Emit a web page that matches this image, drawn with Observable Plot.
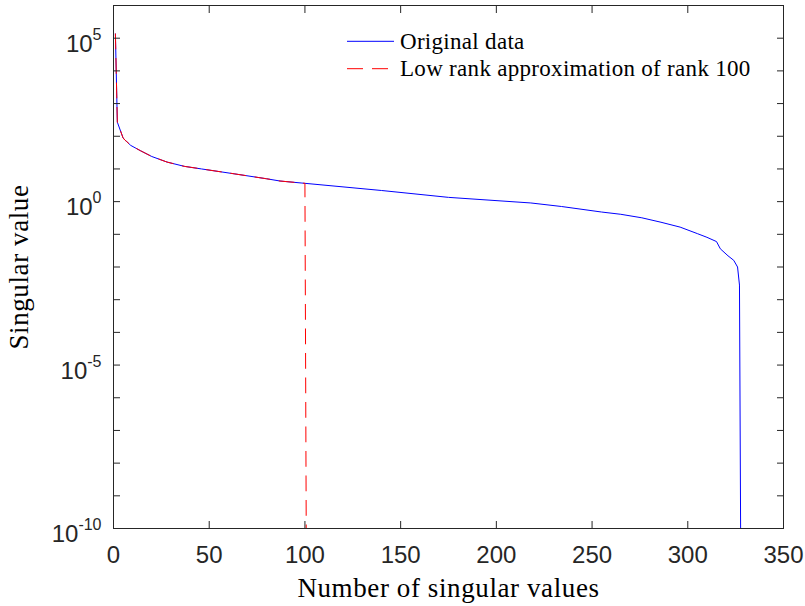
<!DOCTYPE html>
<html>
<head>
<meta charset="utf-8">
<script src="https://cdn.jsdelivr.net/npm/d3@7"></script>
<script src="https://cdn.jsdelivr.net/npm/@observablehq/plot@0.6"></script>
<style>
  html, body { margin: 0; padding: 0; background: #fff; }
  #wrap { position: relative; width: 805px; height: 606px; overflow: hidden; }
  #legend { position: absolute; left: 0; top: 0; pointer-events: none; }
</style>
</head>
<body>
<div id="wrap"></div>
<script>
// ---- data ----
const rankOrig = [1, 2, 5, 6, 7, 9, 14, 20, 28, 37, 46, 63, 80, 87, 98, 100, 140, 175, 218, 234, 255, 265, 276, 286, 296, 305, 310, 315, 317, 321, 324, 326, 327, 328];
const valueOrig = [1.35e5, 269, 89, 76, 68, 52.5, 36.3, 24, 16.2, 12.0, 10.0, 7.1, 5.0, 4.27, 3.72, 3.63, 2.19, 1.35, 0.91, 0.71, 0.48, 0.41, 0.32, 0.234, 0.166, 0.105, 0.081, 0.060, 0.036, 0.022, 0.016, 0.010, 0.0028, 1e-15];
const approxRankCut = 100;            // rank of the approximation
const approxTailRank = [101];         // first discarded singular value
const approxTailValue = [1e-15];      // numerically zero

const xTicks = [0, 50, 100, 150, 200, 250, 300, 350];
const yTicksAll = [1e-10, 1e-9, 1e-8, 1e-7, 1e-6, 1e-5, 1e-4, 1e-3, 1e-2, 1e-1, 1e0, 1e1, 1e2, 1e3, 1e4, 1e5, 1e6];
const yTickLabels = [1e-10, 1e-5, 1e0, 1e5];
const seriesNames = ["Original data", "Low rank approximation of rank 100"];
const xLabel = "Number of singular values";
const yLabel = "Singular value";

const original = rankOrig.map((r, i) => ({rank: r, value: valueOrig[i]}));
const approx = original.filter(d => d.rank <= approxRankCut)
  .concat(approxTailRank.map((r, i) => ({rank: r, value: approxTailValue[i]})));

const axisColor = "#262626";
const tickFont = "'Liberation Sans', Arial, sans-serif";
const serif = "'Liberation Serif', 'Times New Roman', serif";

const chart = Plot.plot({
  width: 805,
  height: 606,
  marginLeft: 113,
  marginRight: 22,
  marginTop: 5,
  marginBottom: 78,
  style: {background: "#fff", color: axisColor, fontFamily: tickFont, overflow: "visible"},
  x: {domain: [0, 350], label: null},
  y: {type: "log", domain: [1e-10, 1e6], label: null},
  marks: [
    Plot.line(original, {x: "rank", y: "value", stroke: "#0000ff", strokeWidth: 1, clip: true}),
    Plot.line(approx, {x: "rank", y: "value", stroke: "#ff0000", strokeWidth: 1, strokeDasharray: "15,9.5", clip: true}),
    Plot.frame({stroke: axisColor, strokeWidth: 1}),
    Plot.axisX({anchor: "bottom", ticks: xTicks, tickSize: -7, tickPadding: 24, fontSize: 24, fill: axisColor, label: null}),
    Plot.axisX({anchor: "top", ticks: xTicks.slice(1, -1), tickSize: -7, tickFormat: () => "", label: null}),
    Plot.axisY({anchor: "left", ticks: yTicksAll, tickSize: -7, tickFormat: () => "", label: null}),
    Plot.axisY({anchor: "right", ticks: yTicksAll, tickSize: -7, tickFormat: () => "", label: null}),
    Plot.axisY({anchor: "left", ticks: yTickLabels, tickSize: 0, tickPadding: 12, dy: 6, fontSize: 24, fill: axisColor,
      tickFormat: d => String(Math.round(Math.log10(d))), label: null}),
    Plot.text([xLabel], {frameAnchor: "bottom", text: d => d, dy: 59.4, fontSize: 27, fontFamily: serif, fill: "#000",
      textAnchor: "middle", lineAnchor: "middle"}),
    Plot.text([yLabel], {frameAnchor: "left", text: d => d, dx: -94.2, rotate: -90, fontSize: 27, fontFamily: serif, fill: "#000",
      textAnchor: "middle", lineAnchor: "middle"})
  ]
});

// letter spacing on the serif labels (Computer Modern is wider than Times)
d3.select(chart).selectAll("text").filter(function() { return this.textContent === xLabel || this.textContent === yLabel; })
  .style("letter-spacing", "0.6px");

// turn exponent labels into 10 with a superscript exponent
d3.select(chart).selectAll("g[aria-label='y-axis tick label'] text").each(function() {
  const exp = this.textContent;
  if (!exp) return;
  const t = d3.select(this);
  t.text("");
  t.append("tspan").text("10");
  t.append("tspan").attr("dy", -12).attr("font-size", 16).text(exp);
});

const wrap = document.getElementById("wrap");
wrap.appendChild(chart);

// legend (inside the axes, top)
const lg = d3.select(wrap).append("svg").attr("id", "legend").attr("width", 805).attr("height", 606);
const rows = [
  {name: seriesNames[0], color: "#0000ff", dash: null, y: 41.3},
  {name: seriesNames[1], color: "#ff0000", dash: "16,9", y: 68.7}
];
rows.forEach(r => {
  lg.append("line").attr("x1", 347).attr("x2", 394).attr("y1", r.y).attr("y2", r.y)
    .attr("stroke", r.color).attr("stroke-width", 1).attr("stroke-dasharray", r.dash);
  lg.append("text").attr("x", 400).attr("y", r.y).attr("dy", "0.32em")
    .attr("font-family", serif).attr("font-size", 23).style("letter-spacing", "0.3px")
    .attr("fill", "#000").text(r.name);
});
</script>
</body>
</html>
